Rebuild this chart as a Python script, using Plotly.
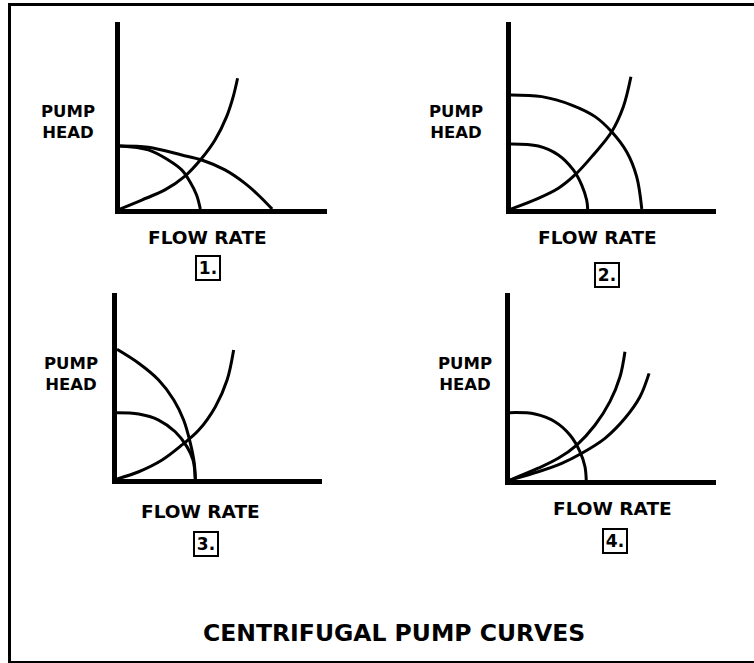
import plotly.graph_objects as go

W, H = 754, 663

# curve values: flow and head in % of axis length
p1_small_q = [0, 13.7, 23.3, 29.8, 33.8, 37.0, 38.8]
p1_small_h = [33.7, 31.6, 26.2, 20.9, 14.6, 7.5, 0]
p1_large_q = [0, 13.7, 29.8, 39.5, 50.7, 60.4, 66.8, 73.5]
p1_large_h = [33.7, 33.0, 28.9, 26.2, 20.9, 13.7, 7.5, 0]
p1_sys_q = [0, 10.5, 21.7, 31.4, 39.1, 45.9, 51.5, 54.7, 56.8]
p1_sys_h = [0, 4.8, 10.2, 17.6, 26.6, 36.9, 49.4, 60.1, 69.9]

p2_small_q = [0, 13.3, 23.1, 30.4, 34.5, 36.9, 37.4]
p2_small_h = [34.8, 33.7, 28.9, 20.9, 12.8, 4.8, 0]
p2_large_q = [0, 15.0, 29.6, 41.0, 49.1, 56.4, 61.3, 63.8]
p2_large_h = [61.0, 60.1, 55.6, 49.4, 41.3, 30.6, 17.3, 0]
p2_sys_q = [0, 13.3, 23.1, 31.2, 40.1, 49.1, 54.8, 58.5]
p2_sys_h = [0, 5.7, 11.1, 18.2, 28.9, 41.3, 54.7, 70.7]

p3_small_q = [0, 10.6, 20.3, 28.4, 34.1, 37.1, 38.2]
p3_small_h = [35.6, 34.9, 31.7, 25.4, 17.4, 10.2, 0]
p3_large_q = [0, 10.6, 20.3, 27.7, 32.5, 35.8, 37.7, 38.2]
p3_large_h = [69.7, 62.2, 53.2, 42.5, 31.7, 19.2, 8.4, 0]
p3_sys_q = [0, 10.6, 22.0, 31.7, 39.9, 48.0, 53.7, 56.9]
p3_sys_h = [0, 3.9, 10.2, 18.3, 26.3, 38.9, 53.2, 69.4]

p4_pump_q = [0, 12.1, 21.8, 29.1, 34.0, 36.4, 37.0]
p4_pump_h = [36.0, 35.3, 31.2, 24.1, 15.1, 7.1, 0]
p4_sysA_q = [0, 13.7, 23.4, 32.4, 41.3, 48.5, 53.4, 55.8]
p4_sysA_h = [0, 6.3, 11.6, 18.7, 29.4, 41.9, 55.2, 68.6]
p4_sysB_q = [0, 13.7, 25.1, 34.8, 46.1, 55.8, 63.1, 67.5]
p4_sysB_h = [0, 4.4, 8.9, 14.3, 22.3, 33.0, 44.5, 57.0]

panel_curves = [
    [(p1_small_q, p1_small_h), (p1_large_q, p1_large_h), (p1_sys_q, p1_sys_h)],
    [(p2_small_q, p2_small_h), (p2_large_q, p2_large_h), (p2_sys_q, p2_sys_h)],
    [(p3_small_q, p3_small_h), (p3_large_q, p3_large_h), (p3_sys_q, p3_sys_h)],
    [(p4_pump_q, p4_pump_h), (p4_sysA_q, p4_sysA_h), (p4_sysB_q, p4_sysB_h)],
]
panel_numbers = ["1.", "2.", "3.", "4."]

# panel boxes in screen pixels: left, right, top, bottom (origin is left/bottom)
panel_px = [(120, 327, 22, 209), (511, 716, 22, 209),
            (117, 322, 293, 479), (510, 716, 293, 480)]
pump_px = [(68, 122), (456, 122), (71, 373.5), (465, 374)]
flow_px = [(207, 237), (597, 237.5), (200, 511.5), (612, 508.5)]
box_px = [(207.5, 267.5), (607, 274.5), (206, 543.5), (615, 541)]


def px(x, y):
    return x / W, 1 - y / H


FONT = "DejaVu Sans"
fig = go.Figure()
annotations = []


def label(text, x, y, size, **kw):
    ax, ay = px(x, y)
    annotations.append(dict(text="<b>%s</b>" % text, x=ax, y=ay, xref="paper",
                            yref="paper", showarrow=False, xanchor="center",
                            yanchor="middle",
                            font=dict(family=FONT, size=size, color="black"),
                            **kw))


for i, curves in enumerate(panel_curves):
    n = "" if i == 0 else str(i + 1)
    for q, h in curves:
        fig.add_trace(go.Scatter(
            x=q, y=h, mode="lines", xaxis="x" + n, yaxis="y" + n,
            line=dict(color="black", width=3, shape="spline", smoothing=1.0),
            showlegend=False, hoverinfo="skip",
        ))
    l, r, t, b = panel_px[i]
    xl, yb = px(l, b)
    xr, yt = px(r, t)
    axis = dict(showline=True, linecolor="black", linewidth=5, showgrid=False,
                zeroline=False, showticklabels=False, ticks="", range=[0, 100],
                fixedrange=True)
    fig.update_layout(**{
        "xaxis" + n: dict(axis, domain=[xl, xr], anchor="y" + n),
        "yaxis" + n: dict(axis, domain=[yb, yt], anchor="x" + n),
    })

    label("PUMP<br>HEAD", *pump_px[i], 16.5)
    label("FLOW RATE", *flow_px[i], 18.5)
    label(panel_numbers[i], *box_px[i], 17, width=20, height=20, borderpad=1,
          borderwidth=2, bordercolor="black")

label("CENTRIFUGAL PUMP CURVES", 394, 632.5, 23.5)

# outer frame, cut off at the right and bottom edges like the scan
x0, y0 = px(9.5, 4.5)
x1, y1 = px(770, 662.5)
fig.update_layout(
    width=W, height=H,
    margin=dict(l=0, r=0, t=0, b=0),
    paper_bgcolor="white", plot_bgcolor="white",
    annotations=annotations,
    shapes=[dict(type="rect", xref="paper", yref="paper", x0=x0, y0=y1,
                 x1=x1, y1=y0, line=dict(color="black", width=3))],
)

# drop the default 8px body margin so the figure sits at the window corner
fig.write_html("out.html", config=dict(displayModeBar=False),
               post_script="document.body.style.margin='0';"
                           "document.body.style.overflow='hidden';")
